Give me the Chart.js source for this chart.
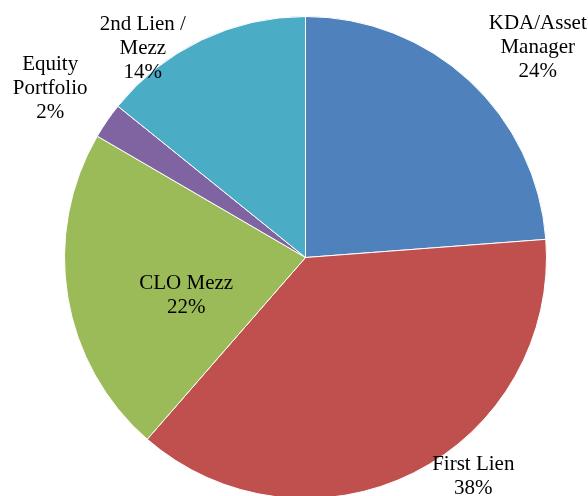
<!DOCTYPE html>
<html>
<head>
<meta charset="utf-8">
<script src="https://cdn.jsdelivr.net/npm/chart.js@4"></script>
<style>
  html, body { margin: 0; padding: 0; background: #fff; overflow: hidden; }
  #wrap { width: 588px; height: 500px; }
</style>
</head>
<body>
<div id="wrap"><canvas id="pieChart"></canvas></div>
<script>
// slices, clockwise from 12 o'clock
const categories = [['KDA/Asset', 'Manager'], ['First Lien'], ['CLO Mezz'], ['Equity', 'Portfolio'], ['2nd Lien /', 'Mezz']];
const shares = [23.8, 37.6, 22.0, 2.4, 14.2];
const sliceColors = ['#4F81BD', '#C0504D', '#9BBB59', '#8064A2', '#4BACC6'];

// where each label sits: radius factor and angle offset (deg) from the slice middle
const labelSpots = [[1.30, 5], [1.145, -10.8], [0.52, -8.4], [1.27, -1.1], [1.10, -12.3]];

const sliceLabels = {
    id: 'sliceLabels',
    afterDraw(chart) {
        const ctx = chart.ctx;
        const arcs = chart.getDatasetMeta(0).data;
        ctx.save();
        ctx.font = "21px 'Liberation Serif'";
        ctx.fillStyle = '#000';
        ctx.textAlign = 'center';
        ctx.textBaseline = 'middle';
        arcs.forEach((arc, i) => {
            const p = arc.getProps(['x', 'y', 'startAngle', 'endAngle', 'outerRadius'], true);
            const a = (p.startAngle + p.endAngle) / 2 + labelSpots[i][1] * Math.PI / 180;
            const r = p.outerRadius * labelSpots[i][0];
            const x = p.x + r * Math.cos(a);
            const y = p.y + r * Math.sin(a);
            const lines = categories[i].concat([Math.round(shares[i]) + '%']);
            const lh = 24;
            lines.forEach((t, k) => {
                ctx.fillText(t, x, y + (k - (lines.length - 1) / 2) * lh);
            });
        });
        ctx.restore();
    }
};

const ctx1 = document.getElementById('pieChart').getContext('2d');
const pieChart = new Chart(ctx1, {
    type: 'pie',
    data: {
        labels: categories.map(c => c.join(' ')),
        datasets: [{
            data: shares,
            backgroundColor: sliceColors,
            borderColor: '#fff',
            borderWidth: 1
        }]
    },
    options: {
        responsive: true,
        maintainAspectRatio: false,
        animation: false,
        layout: { padding: { top: 16, bottom: 1, left: 64, right: 41 } },
        plugins: {
            legend: { display: false },
            tooltip: { enabled: false }
        }
    },
    plugins: [sliceLabels]
});
</script>
</body>
</html>
